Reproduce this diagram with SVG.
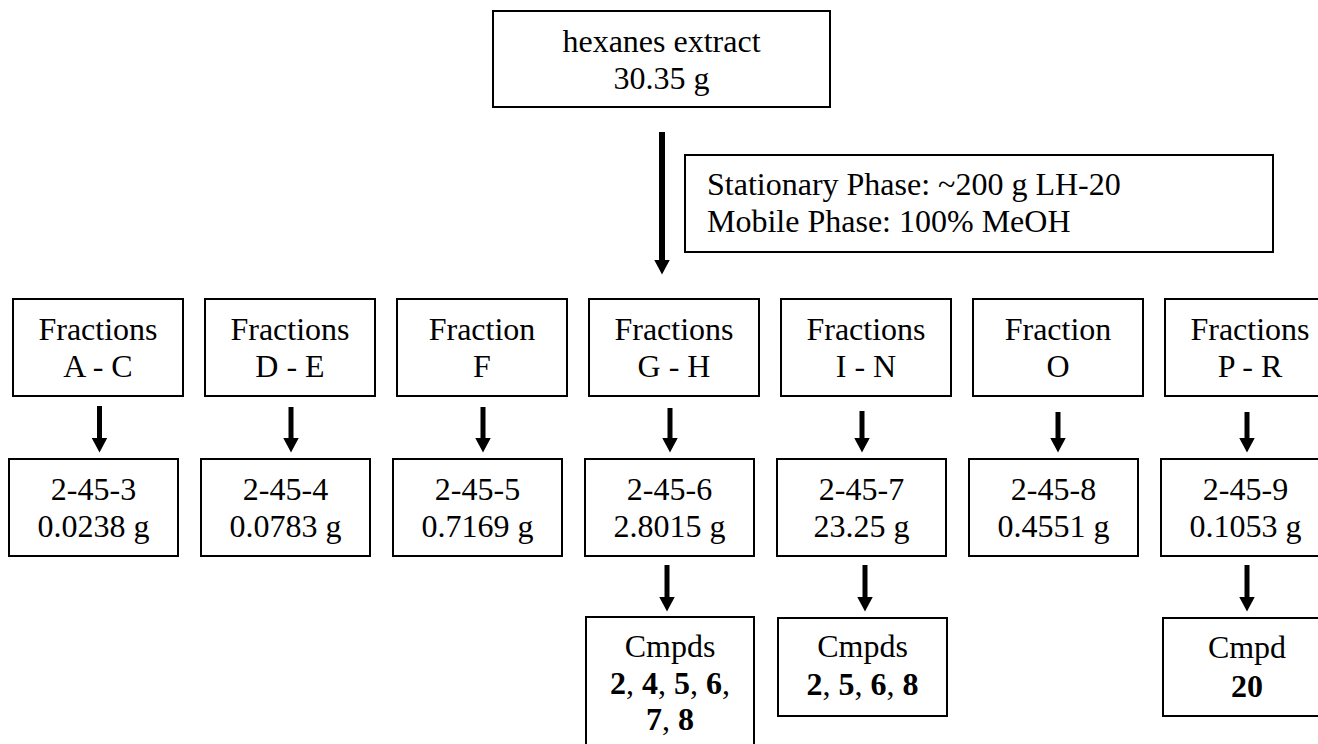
<svg xmlns="http://www.w3.org/2000/svg" width="1318" height="744" viewBox="0 0 1318 744">
<style>
  .box { fill: #ffffff; stroke: #000000; stroke-width: 2; }
  .t { font-family: "Liberation Serif", "Times New Roman", serif; font-size: 32px; fill: #000000; text-anchor: middle; }
  .tl { font-family: "Liberation Serif", "Times New Roman", serif; font-size: 32px; fill: #000000; text-anchor: start; }
  .b { font-weight: bold; }
  .arr { stroke: #000000; stroke-width: 5; fill: none; marker-end: url(#head); }
  .arrbig { stroke: #000000; stroke-width: 6; fill: none; marker-end: url(#head); }
</style>
<defs>
  <marker id="head" markerUnits="userSpaceOnUse" viewBox="0 0 15 16" markerWidth="15" markerHeight="16" refX="0.5" refY="8" orient="auto">
    <path d="M0,0 L15,8 L0,16 Z" fill="#000000"/>
  </marker>
</defs>
<rect width="1318" height="744" fill="#ffffff"/>

<g id="connectors">
  <line class="arrbig" x1="662" y1="132" x2="662" y2="260"/>
  <line class="arr" x1="99.5" y1="406" x2="99.5" y2="438"/>
  <line class="arr" x1="291" y1="407" x2="291" y2="438"/>
  <line class="arr" x1="483" y1="407" x2="483" y2="438"/>
  <line class="arr" x1="670" y1="408" x2="670" y2="438"/>
  <line class="arr" x1="862" y1="411" x2="862" y2="438"/>
  <line class="arr" x1="1058" y1="412" x2="1058" y2="438"/>
  <line class="arr" x1="1247" y1="412" x2="1247" y2="438"/>
  <line class="arr" x1="667" y1="565" x2="667" y2="597"/>
  <line class="arr" x1="865" y1="565" x2="865" y2="597"/>
  <line class="arr" x1="1247" y1="565" x2="1247" y2="597"/>
</g>

<g id="hexanes">
  <rect class="box" x="493" y="11" width="337" height="96"/>
  <text class="t" x="661.5" y="52">hexanes extract</text>
  <text class="t" x="661.5" y="89">30.35 g</text>
</g>

<g id="conditions">
  <rect class="box" x="685" y="155" width="588" height="97"/>
  <text class="tl" x="707" y="195">Stationary Phase: ~200 g LH-20</text>
  <text class="tl" x="707" y="232">Mobile Phase: 100% MeOH</text>
</g>

<g id="frac-AC">
  <rect class="box" x="13" y="299" width="170" height="97"/>
  <text class="t" x="98" y="340">Fractions</text>
  <text class="t" x="98" y="377">A - C</text>
</g>
<g id="frac-DE">
  <rect class="box" x="205" y="299" width="170" height="97"/>
  <text class="t" x="290" y="340">Fractions</text>
  <text class="t" x="290" y="377">D - E</text>
</g>
<g id="frac-F">
  <rect class="box" x="397" y="299" width="170" height="97"/>
  <text class="t" x="482" y="340">Fraction</text>
  <text class="t" x="482" y="377">F</text>
</g>
<g id="frac-GH">
  <rect class="box" x="589" y="299" width="170" height="97"/>
  <text class="t" x="674" y="340">Fractions</text>
  <text class="t" x="674" y="377">G - H</text>
</g>
<g id="frac-IN">
  <rect class="box" x="781" y="299" width="170" height="97"/>
  <text class="t" x="866" y="340">Fractions</text>
  <text class="t" x="866" y="377">I - N</text>
</g>
<g id="frac-O">
  <rect class="box" x="973" y="299" width="170" height="97"/>
  <text class="t" x="1058" y="340">Fraction</text>
  <text class="t" x="1058" y="377">O</text>
</g>
<g id="frac-PR">
  <rect class="box" x="1165" y="299" width="170" height="97"/>
  <text class="t" x="1250" y="340">Fractions</text>
  <text class="t" x="1250" y="377">P - R</text>
</g>

<g id="s-2-45-3">
  <rect class="box" x="9" y="459" width="169" height="97"/>
  <text class="t" x="93.5" y="500">2-45-3</text>
  <text class="t" x="93.5" y="537">0.0238 g</text>
</g>
<g id="s-2-45-4">
  <rect class="box" x="201" y="459" width="169" height="97"/>
  <text class="t" x="285.5" y="500">2-45-4</text>
  <text class="t" x="285.5" y="537">0.0783 g</text>
</g>
<g id="s-2-45-5">
  <rect class="box" x="393" y="459" width="169" height="97"/>
  <text class="t" x="477.5" y="500">2-45-5</text>
  <text class="t" x="477.5" y="537">0.7169 g</text>
</g>
<g id="s-2-45-6">
  <rect class="box" x="585" y="459" width="169" height="97"/>
  <text class="t" x="669.5" y="500">2-45-6</text>
  <text class="t" x="669.5" y="537">2.8015 g</text>
</g>
<g id="s-2-45-7">
  <rect class="box" x="777" y="459" width="169" height="97"/>
  <text class="t" x="861.5" y="500">2-45-7</text>
  <text class="t" x="861.5" y="537">23.25 g</text>
</g>
<g id="s-2-45-8">
  <rect class="box" x="969" y="459" width="169" height="97"/>
  <text class="t" x="1053.5" y="500">2-45-8</text>
  <text class="t" x="1053.5" y="537">0.4551 g</text>
</g>
<g id="s-2-45-9">
  <rect class="box" x="1161" y="459" width="169" height="97"/>
  <text class="t" x="1245.5" y="500">2-45-9</text>
  <text class="t" x="1245.5" y="537">0.1053 g</text>
</g>

<g id="cmpds-GH">
  <rect class="box" x="586" y="617" width="168" height="140"/>
  <text class="t" x="670" y="657">Cmpds</text>
  <text class="t" x="670" y="694"><tspan class="b">2</tspan>, <tspan class="b">4</tspan>, <tspan class="b">5</tspan>, <tspan class="b">6</tspan>,</text>
  <text class="t" x="670" y="730"><tspan class="b">7</tspan>, <tspan class="b">8</tspan></text>
</g>
<g id="cmpds-IN">
  <rect class="box" x="778" y="618" width="169" height="98"/>
  <text class="t" x="862.5" y="657">Cmpds</text>
  <text class="t" x="862.5" y="695"><tspan class="b">2</tspan>, <tspan class="b">5</tspan>, <tspan class="b">6</tspan>, <tspan class="b">8</tspan></text>
</g>
<g id="cmpd-PR">
  <rect class="box" x="1163" y="618" width="169" height="98"/>
  <text class="t" x="1247" y="658">Cmpd</text>
  <text class="t b" x="1247" y="697">20</text>
</g>
</svg>
